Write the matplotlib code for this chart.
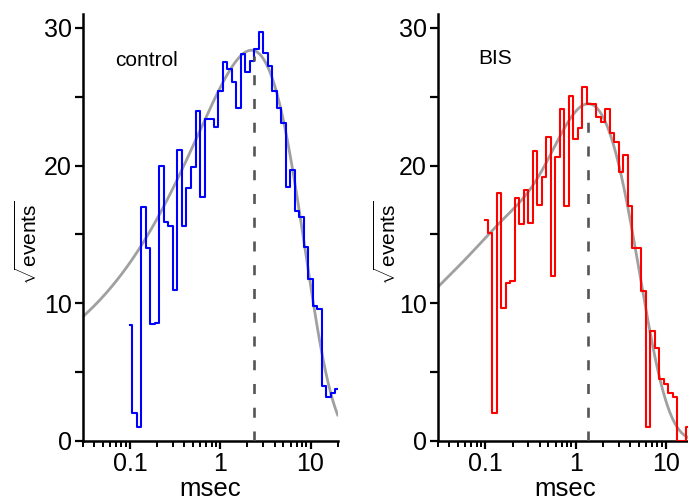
import numpy as np
import matplotlib
matplotlib.use("Agg")
import matplotlib.pyplot as plt
from matplotlib.ticker import LogLocator, FixedLocator, NullFormatter, FuncFormatter

plt.rcParams['font.family'] = ['Liberation Sans', 'DejaVu Sans']
plt.rcParams['mathtext.fontset'] = 'custom'
plt.rcParams['mathtext.rm'] = 'Liberation Sans'
plt.rcParams['mathtext.it'] = 'Liberation Sans:italic'

# log-binned histogram, 20 bins per decade starting at 0.1 ms
bin_first = 0.1
bins_per_decade = 20

control_vals = [8.4, 2.0, 1.0, 17.0, 14.0, 8.5, 8.6, 20.0, 15.9, 15.6,
                11.0, 21.1, 15.6, 18.35, 19.9, 24.0, 17.7, 23.4, 23.4, 22.8,
                25.4, 27.5, 27.05, 26.1, 24.15, 28.1, 26.8, 27.6, 28.5, 29.7,
                28.15, 27.2, 25.4, 24.15, 23.07, 18.47, 19.7, 16.7, 16.3, 14.1,
                11.8, 9.8, 9.56, 4.0, 3.2, 3.5, 3.75]

bis_vals = [16.05, 15.08, 2.0, 18.03, 9.63, 11.5, 11.6, 17.67, 15.76, 18.2,
            15.85, 21.06, 17.14, 19.2, 22.05, 12.0, 20.6, 24.1, 17.07, 25.05,
            21.93, 22.7, 25.73, 24.5, 24.45, 23.55, 23.14, 24.1, 22.4, 21.74,
            19.56, 20.77, 17.07, 14.0, 14.0, 10.9, 1.04, 7.99, 6.73, 4.48,
            4.14, 3.5, 3.17, 0.0, 0.0, 1.0, 1.0]

# fit components: (tau in ms, peak counts, shape exponent)
control_fit = [(2.34, 790.0, 1.0), (0.3, 95.0, 0.4)]
bis_fit = [(1.38, 600.0, 1.0), (0.10, 105.0, 1.0), (0.02, 30.0, 1.0)]

panels = [
    ('control', control_vals, control_fit, '#0000ff', 0.126, 0.892, -0.164),
    ('BIS', bis_vals, bis_fit, '#ff0000', 0.156, 0.897, -0.149),
]

fig = plt.figure(figsize=(6.88, 5.01), dpi=100)
ax_pos = [[0.1203, 0.1198, 0.3706, 0.852],
          [0.6368, 0.1198, 0.3706, 0.852]]


def fit_curve(t, comps):
    total = np.zeros_like(t)
    for tau, amp, b in comps:
        x = t / tau
        total += amp * x ** b * np.exp(b * (1 - x))
    return np.sqrt(total)


for pos, (name, vals, comps, color, tx, ty, lx) in zip(ax_pos, panels):
    ax = fig.add_axes(pos)
    t_bins = bin_first * 10 ** (np.arange(len(vals)) / bins_per_decade)
    t = np.logspace(np.log10(0.03), np.log10(20), 400)
    ax.plot(t, fit_curve(t, comps), color='#a0a0a0', lw=2.0, zorder=2)
    ax.plot(t_bins, vals, drawstyle='steps-mid', color=color, lw=1.5, zorder=3)
    tau_peak = comps[0][0]
    peak = fit_curve(np.array([tau_peak]), comps)[0]
    ax.plot([tau_peak, tau_peak], [0, peak - 0.4], color='#555555', lw=1.9,
            dashes=(3.8, 5.2), zorder=4)

    ax.set_xscale('log')
    ax.set_xlim(0.03, 20)
    ax.set_ylim(0, 31)
    ax.xaxis.set_major_locator(FixedLocator([0.1, 1, 10]))
    ax.xaxis.set_major_formatter(FuncFormatter(lambda v, _: '%g' % v))
    ax.xaxis.set_minor_locator(LogLocator(base=10, subs=np.arange(2, 10)))
    ax.xaxis.set_minor_formatter(NullFormatter())
    ax.set_yticks([0, 10, 20, 30])
    ax.set_yticks([5, 15, 25], minor=True)

    for s in ['top', 'right']:
        ax.spines[s].set_visible(False)
    for s in ['left', 'bottom']:
        ax.spines[s].set_linewidth(1.8)
    ax.tick_params(which='major', length=6, width=1.6, labelsize=18, pad=2)
    ax.tick_params(which='minor', length=4, width=1.4)
    ax.tick_params(axis='y', which='minor', length=6, width=1.6)

    ax.set_xlabel('msec', fontsize=18.5, labelpad=1)
    ax.set_ylabel(r'$\sqrt{\mathrm{events}}$', fontsize=15)
    ax.yaxis.set_label_coords(lx, 0.464)
    ax.text(tx, ty, name, transform=ax.transAxes, fontsize=15, va='center')

fig.savefig('out.png', dpi=100)
